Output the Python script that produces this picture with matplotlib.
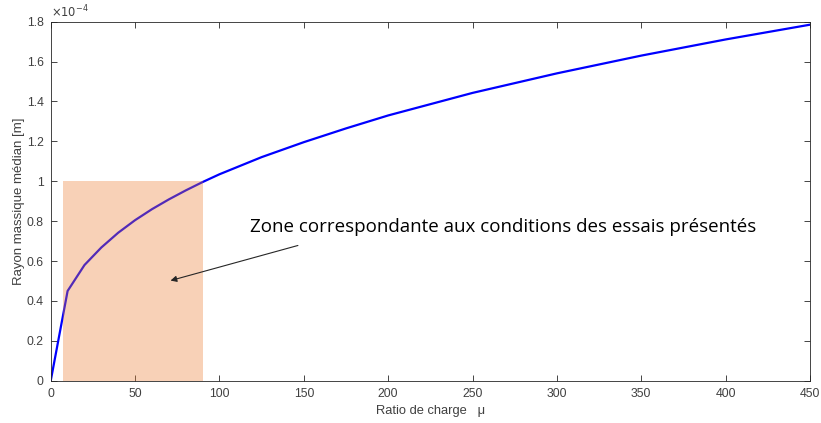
import matplotlib
matplotlib.use("Agg")
import matplotlib.pyplot as plt
from matplotlib.patches import Rectangle
from matplotlib.ticker import FuncFormatter

# Data (radius in units of 1e-4 m)
mu = [0, 10, 20, 30, 40, 50, 60, 70, 80, 90, 100, 125, 150, 175, 200, 250, 300, 350, 400, 450]
r_median_e4 = [0, 0.45, 0.58, 0.668, 0.742, 0.805, 0.86, 0.909, 0.954, 0.996, 1.035,
               1.121, 1.196, 1.265, 1.330, 1.443, 1.541, 1.630, 1.711, 1.785]
zone_mu = [7, 90]
zone_r_max = 1.0
xticks = list(range(0, 451, 50))
yticks = [0, 0.2, 0.4, 0.6, 0.8, 1.0, 1.2, 1.4, 1.6, 1.8]
annot_text = "Zone correspondante aux conditions des essais présentés"

plt.rcParams['font.family'] = ['Liberation Sans', 'DejaVu Sans']
axc = '#262626'

fig = plt.figure(figsize=(8.21, 4.23), dpi=100)
ax = fig.add_axes([0.0618, 0.1, 0.9248, 0.8487])

ax.plot(mu, r_median_e4, color='#0000ff', lw=1.6, zorder=2, solid_joinstyle='round')
ax.add_patch(Rectangle((zone_mu[0], 0), zone_mu[1] - zone_mu[0], zone_r_max,
                       facecolor='#ED7D31', alpha=0.35, edgecolor='none', zorder=3))

ax.set_xlim(0, 450)
ax.set_ylim(0, 1.8)
ax.set_xticks(xticks)
ax.set_yticks(yticks)
ax.yaxis.set_major_formatter(FuncFormatter(lambda v, p: f"{v:g}"))
ax.tick_params(direction='in', length=4.5, width=0.6, colors=axc, labelsize=8.8,
               top=True, right=True, pad=5)
for lbl in ax.get_xticklabels() + ax.get_yticklabels():
    lbl.set_color('#404040')
for s in ax.spines.values():
    s.set_color(axc)
    s.set_linewidth(0.6)

ax.set_xlabel("Ratio de charge   μ", fontsize=9.3, color='#404040', labelpad=4)
ax.set_ylabel("Rayon massique médian [m]", fontsize=9.5, color='#404040', labelpad=1)
ax.text(0.0, 1.005, r"$\times10^{-4}$", transform=ax.transAxes, fontsize=8.3,
        color='#404040', ha='left', va='bottom')

ax.annotate("", xy=(71, 0.502), xytext=(146.5, 0.678),
            arrowprops=dict(arrowstyle='-|>', color='#262626', lw=0.8,
                            mutation_scale=9, shrinkA=0, shrinkB=0), zorder=5)
ax.text(118, 0.745, annot_text, fontsize=13.5, family=['Open Sans', 'DejaVu Sans'],
        color='black', ha='left', va='baseline', zorder=5)

fig.savefig("out.png", dpi=100)
